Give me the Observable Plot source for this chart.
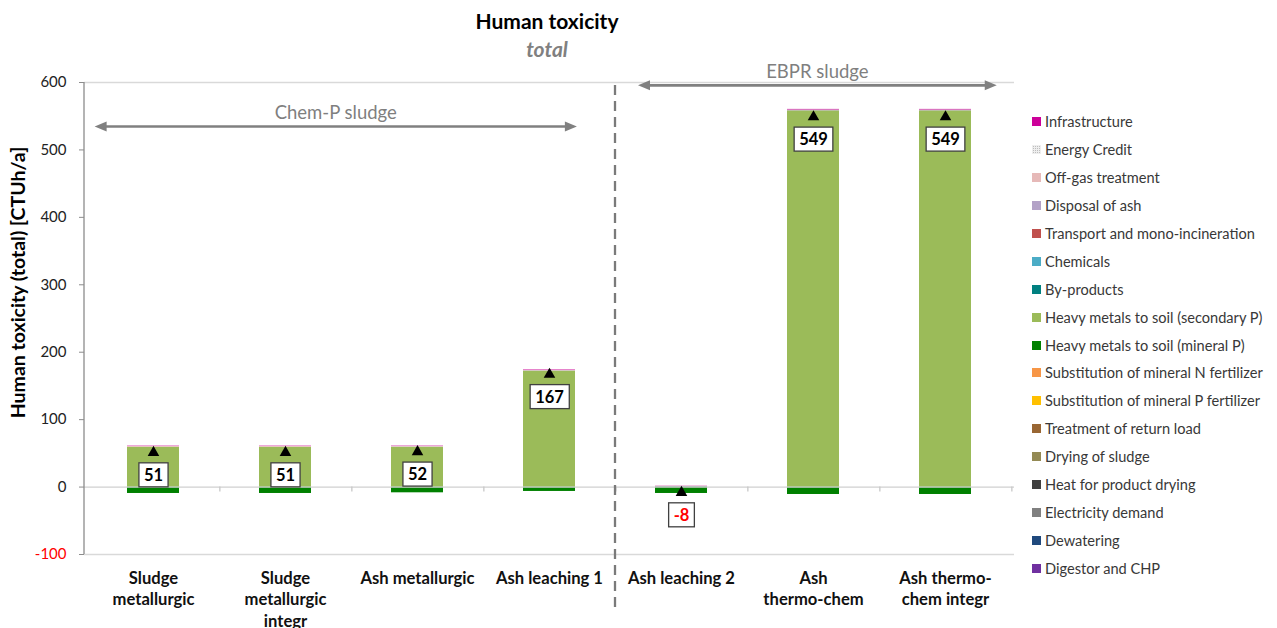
<!DOCTYPE html>
<html><head><meta charset="utf-8">
<script src="https://cdn.jsdelivr.net/npm/d3@7"></script>
<script src="https://cdn.jsdelivr.net/npm/@observablehq/plot@0.6"></script>
<style>
body{margin:0;background:#fff;font-family:Lato,sans-serif;}
#wrap{position:relative;width:1277px;height:628px;overflow:hidden;background:#fff;}
#title{position:absolute;left:0;top:8px;width:1094px;text-align:center;font-weight:700;font-size:21px;color:#000;}
#subtitle{position:absolute;left:0;top:36px;width:1094px;text-align:center;font-weight:700;font-style:italic;font-size:21px;color:#808080;}
#chart{position:absolute;left:0;top:62px;}
#legend{position:absolute;left:1032px;top:108px;}
.item{height:27.9px;display:flex;align-items:center;font-size:14.6px;color:#383838;white-space:nowrap;}
.sw{width:9px;height:9px;margin-right:4px;flex:none;}
</style></head>
<body>
<div id="wrap">
  <div id="title">Human toxicity</div>
  <div id="subtitle">total</div>
  <div id="chart"></div>
  <div id="legend"></div>
</div>
<script>
// ---- data ----
const categories = ["Sludge metallurgic", "Sludge metallurgic integr", "Ash metallurgic", "Ash leaching 1", "Ash leaching 2", "Ash thermo-chem", "Ash thermo-chem integr"];
const tickLabels = ["Sludge\nmetallurgic", "Sludge\nmetallurgic\nintegr", "Ash metallurgic", "Ash leaching 1", "Ash leaching 2", "Ash\nthermo-chem", "Ash thermo-\nchem integr"];

// stacking order: bottom -> top (legend shows it reversed)
const seriesNames = ["Digestor and CHP", "Dewatering", "Electricity demand", "Heat for product drying", "Drying of sludge", "Treatment of return load", "Substitution of mineral P fertilizer", "Substitution of mineral N fertilizer", "Heavy metals to soil (mineral P)", "Heavy metals to soil (secondary P)", "By-products", "Chemicals", "Transport and mono-incineration", "Disposal of ash", "Off-gas treatment", "Energy Credit", "Infrastructure"];
const seriesColors = ["#7030A0", "#1F497D", "#808080", "#404040", "#948A54", "#996633", "#FFC000", "#F79646", "#008000", "#9BBB59", "#008080", "#4BACC6", "#C0504D", "#B3A2C7", "#E6B9B8", "#A6A6A6", "#CC0099"];

const digestorCHP      = [0, 0, 0, 0, 0, 0, 0];
const dewatering       = [0, 0, 0, 0, 0, 0, 0];
const electricity      = [0, 0, 0, 0, 0, 0, 0];
const heatDrying       = [0, 0, 0, 0, 0, 0, 0];
const dryingSludge     = [0, 0, 0, 0, 0, 0, 0];
const returnLoad       = [0, 0, 0, 0, 0, 0, 0];
const substP           = [0, 0, 0, 0, 0, 0, 0];
const substN           = [0, 0, 0, 0, 0, 0, 0];
const heavyMineralP    = [-9.5, -9.5, -8.5, -6.5, -9.5, -11, -11];
const heavySecondaryP  = [59, 59, 59, 172, 0, 558, 558];
const byProducts       = [0, 0, 0, 0, 0, 0, 0];
const chemicals        = [0, 0, 0, 0, 0, 0, 0];
const transportMono    = [0, 0, 0, 0, 0, 0, 0];
const disposalAsh      = [0, 0, 0.4, 0.5, 0.8, 1.0, 1.0];
const offGas           = [1.2, 1.2, 0.9, 0.5, 0.3, 0.3, 0.3];
const energyCredit     = [0, 0, 0, 0, 0, 0, 0];
const infrastructure   = [0.5, 0.5, 0.5, 0.7, 0.3, 0.8, 0.8];

const seriesValues = [digestorCHP, dewatering, electricity, heatDrying, dryingSludge, returnLoad, substP, substN, heavyMineralP, heavySecondaryP, byProducts, chemicals, transportMono, disposalAsh, offGas, energyCredit, infrastructure];

const yTicks = [0, 100, 200, 300, 400, 500, 600];
const yNegTicks = [-100];
const yLabel = "Human toxicity (total) [CTUh/a]";

// group annotations (positions in band steps from the left of the x range)
const groupNames = ["Chem-P sludge", "EBPR sludge"];
const groupStart = [0.08, 4.17];
const groupEnd = [3.71, 6.87];
const groupLevel = [534, 595];
const separatorBefore = "Ash leaching 2";

// ---- build tables ----
const rows = [];
seriesNames.forEach((s, si) => {
  categories.forEach((c, ci) => {
    const v = seriesValues[si][ci];
    if (v !== 0) rows.push({category: c, series: s, value: v});
  });
});
const totals = categories.map((c, ci) => ({category: c, net: d3.sum(seriesValues, arr => arr[ci])}));

const W = 1025, H = 566;
const plot = Plot.plot({
  width: W, height: H,
  marginTop: 20, marginBottom: 74, marginLeft: 84, marginRight: 11,
  style: {fontFamily: "Lato, sans-serif", fontSize: "15px", background: "white", overflow: "visible"},
  x: {domain: categories, padding: 0, axis: null},
  y: {domain: [-100, 600], axis: null},
  color: {domain: seriesNames, range: seriesColors},
  marks: [
    Plot.ruleY([600, -100], {stroke: "#d9d9d9", strokeWidth: 1.3}),
    Plot.barY(rows, {x: "category", y: "value", fill: "series", insetLeft: 40, insetRight: 40}),
    Plot.ruleY([0], {stroke: "#d0d0d0", strokeWidth: 1.3}),
    Plot.axisY({ticks: yTicks, tickSize: 5, tickPadding: 13, tickFormat: (d) => String(d), stroke: "#8c8c8c", fill: "#222", fontSize: 15, label: null}),
    Plot.axisY({ticks: yNegTicks, tickSize: 5, tickPadding: 13, tickFormat: (d) => String(d), stroke: "#8c8c8c", fill: "#ff0000", fontSize: 15, label: null}),
    Plot.axisX({tickSize: 0, tickPadding: 14, tickFormat: (d) => tickLabels[categories.indexOf(d)], fontWeight: "bold", fontSize: 16.6, fill: "#111", lineHeight: 1.3, label: null}),
    Plot.text([yLabel], {frameAnchor: "left", textAnchor: "middle", rotate: -90, dx: -66, dy: -36, fontWeight: "bold", fontSize: 19.5, fill: "#000"}),
    Plot.dot(totals, {x: "category", y: "net", symbol: "triangle", r: 4.3, fill: "#000", stroke: null}),
    Plot.text(totals, {x: "category", y: "net", text: (d) => String(Math.round(d.net)), dy: 23, fontWeight: "bold", fontSize: 16.5, fill: (d) => d.net < 0 ? "#ff0000" : "#000"})
  ]
});
document.getElementById("chart").appendChild(plot);

// ---- annotations drawn with the plot's scales ----
const svg = d3.select(plot);
const xs = plot.scale("x"), ys = plot.scale("y");
const x0 = xs.range[0];
const step = (xs.range[1] - xs.range[0]) / categories.length;
const ann = svg.append("g").attr("class", "annotations");

// y axis line
ann.append("line").attr("x1", x0).attr("x2", x0).attr("y1", ys.apply(600)).attr("y2", ys.apply(-100)).attr("stroke", "#8c8c8c").attr("stroke-width", 1.3);
// band boundary ticks below zero line
categories.forEach((c) => {
  const xb = xs.apply(c) + step;
  ann.append("line").attr("x1", xb).attr("x2", xb).attr("y1", ys.apply(0)).attr("y2", ys.apply(0) + 5).attr("stroke", "#c8c8c8").attr("stroke-width", 1.3);
});
// dashed separator
const xsep = xs.apply(separatorBefore);
ann.append("line").attr("x1", xsep).attr("x2", xsep).attr("y1", ys.apply(600) + 3).attr("y2", ys.apply(-100) + 56)
  .attr("stroke", "#7a7a7a").attr("stroke-width", 2.3).attr("stroke-dasharray", "10,6");
// double arrows + labels
groupNames.forEach((name, i) => {
  const xa = x0 + groupStart[i] * step, xb = x0 + groupEnd[i] * step, y = ys.apply(groupLevel[i]);
  const hl = 12, hw = 5;
  ann.append("line").attr("x1", xa + hl - 1).attr("x2", xb - hl + 1).attr("y1", y).attr("y2", y).attr("stroke", "#808080").attr("stroke-width", 2.6);
  ann.append("path").attr("d", `M${xa},${y}L${xa + hl},${y - hw}L${xa + hl},${y + hw}Z`).attr("fill", "#808080");
  ann.append("path").attr("d", `M${xb},${y}L${xb - hl},${y - hw}L${xb - hl},${y + hw}Z`).attr("fill", "#808080");
  ann.append("text").attr("x", (xa + xb) / 2).attr("y", y - 14).attr("dy", "0.35em").attr("text-anchor", "middle")
    .attr("font-size", 18.5).attr("fill", "#7f7f7f").text(name);
});
// boxes behind net labels (last text mark)
const textGroups = svg.selectAll('g[aria-label="text"]').nodes();
const netGroup = textGroups[textGroups.length - 1];
d3.select(netGroup).selectAll("text").each(function () {
  const bb = this.getBBox();
  const w = bb.width + 10, h = 24;
  const cy = bb.y + bb.height / 2;
  const r = document.createElementNS("http://www.w3.org/2000/svg", "rect");
  r.setAttribute("x", bb.x + bb.width / 2 - w / 2);
  r.setAttribute("y", cy - h / 2);
  r.setAttribute("width", w);
  r.setAttribute("height", h);
  r.setAttribute("fill", "#fff");
  r.setAttribute("stroke", "#404040");
  r.setAttribute("stroke-width", 1.3);
  const t = this.getAttribute("transform");
  if (t) r.setAttribute("transform", t);
  this.parentNode.insertBefore(r, this);
});

// ---- legend (top = last series) ----
const legend = d3.select("#legend");
seriesNames.slice().reverse().forEach((s) => {
  const color = seriesColors[seriesNames.indexOf(s)];
  const item = legend.append("div").attr("class", "item");
  const sw = item.append("span").attr("class", "sw").style("background", color);
  if (s === "Energy Credit") {
    sw.style("background", "#bdbdbd").style("background-image",
      "repeating-linear-gradient(0deg, #eee 0 1px, transparent 1px 2px), repeating-linear-gradient(90deg, #eee 0 1px, transparent 1px 2px)");
  }
  item.append("span").text(s);
});
</script>
</body></html>
